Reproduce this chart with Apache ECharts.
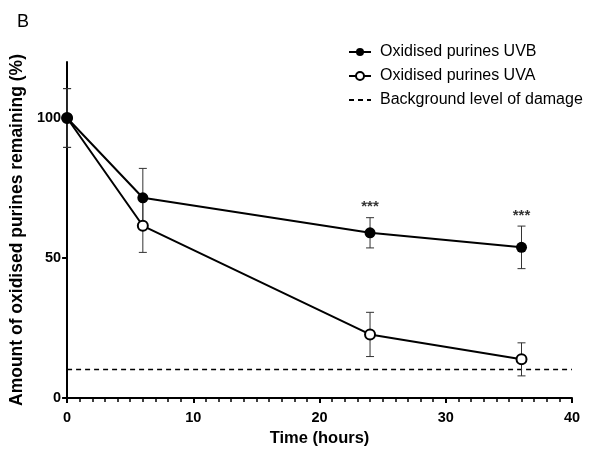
<!DOCTYPE html>
<html>
<head>
<meta charset="utf-8">
<script src="https://cdn.jsdelivr.net/npm/echarts@6/dist/echarts.min.js"></script>
<style>
  html, body { margin: 0; padding: 0; background: #fff; }
  #main { width: 592px; height: 459px; }
</style>
</head>
<body>
<div id="main"></div>
<script>
// time points (hours)
const times = [0, 6, 24, 36];
// UVB: mean and error (+/-)
const uvbMean = [100, 71.5, 59, 53.8];
const uvbErr = [10.5, 10.5, 5.4, 7.6];
// UVA
const uvaMean = [100, 61.5, 22.7, 13.8];
const uvaErr = [10.5, 9.5, 7.9, 5.9];
// background level
const bgLevel = 10.2;
// significance marks
const starTimes = [24, 36];
const starText = "***";
const yTicks = [0, 50, 100];

const font = "Liberation Sans, Arial, sans-serif";

const myChart = echarts.init(document.getElementById("main"));

function errData(mean, err) {
  return times.map((t, i) => [t, mean[i] - err[i], mean[i] + err[i]]);
}

function renderErr(params, api) {
  const x = api.value(0);
  const lo = api.coord([x, api.value(1)]);
  const hi = api.coord([x, api.value(2)]);
  const w = 4;
  const style = { stroke: "#333", lineWidth: 1 };
  return {
    type: "group",
    children: [
      { type: "line", shape: { x1: lo[0], y1: lo[1], x2: hi[0], y2: hi[1] }, style: style },
      { type: "line", shape: { x1: lo[0] - w, y1: lo[1], x2: lo[0] + w, y2: lo[1] }, style: style },
      { type: "line", shape: { x1: hi[0] - w, y1: hi[1], x2: hi[0] + w, y2: hi[1] }, style: style },
    ],
  };
}

const starData = starTimes.map((t) => {
  const i = times.indexOf(t);
  return [t, uvbMean[i] + uvbErr[i]];
});

myChart.setOption({
  animation: false,
  textStyle: { fontFamily: font },
  grid: { left: 67, right: 20, top: 62, bottom: 61 },
  title: {
    text: "B",
    left: 12,
    top: 8,
    textStyle: { fontFamily: font, fontSize: 18, fontWeight: "normal", color: "#000" },
  },
  legend: {
    orient: "vertical",
    left: 343,
    top: 39,
    itemWidth: 22,
    itemHeight: 10,
    itemGap: 8,
    textStyle: { fontFamily: font, fontSize: 16, color: "#000", padding: [0, 0, 0, 4] },
    data: [
      "Oxidised purines UVB",
      "Oxidised purines UVA",
      { name: "Background level of damage", itemStyle: { color: "rgba(0,0,0,0)", borderWidth: 0 } },
    ],
  },
  xAxis: {
    type: "value",
    min: 0,
    max: 40,
    interval: 10,
    name: "Time (hours)",
    nameLocation: "middle",
    nameGap: 32,
    nameTextStyle: { fontFamily: font, fontSize: 16.5, fontWeight: "bold", color: "#000" },
    splitLine: { show: false },
    axisLine: { lineStyle: { color: "#000", width: 2 } },
    axisTick: { show: true, length: 5, lineStyle: { color: "#000", width: 2 } },
    minorTick: { show: true, splitNumber: 10, length: 4, lineStyle: { color: "#000", width: 1.5 } },
    axisLabel: { fontFamily: font, fontSize: 14.5, fontWeight: "bold", color: "#000", margin: 12 },
  },
  yAxis: {
    type: "value",
    min: 0,
    max: 120,
    interval: 50,
    name: "Amount of oxidised purines remaining (%)",
    nameLocation: "middle",
    nameGap: 41,
    nameTextStyle: { fontFamily: font, fontSize: 17.5, fontWeight: "bold", color: "#000" },
    splitLine: { show: false },
    axisLine: { show: true, lineStyle: { color: "#000", width: 2 } },
    axisTick: { show: true, length: 5, customValues: yTicks, lineStyle: { color: "#000", width: 2 } },
    axisLabel: { fontFamily: font, fontSize: 14.5, fontWeight: "bold", color: "#000", margin: 6, customValues: yTicks },
  },
  series: [
    {
      name: "Background level of damage",
      type: "line",
      data: [[0, bgLevel], [40, bgLevel]],
      symbol: "none",
      lineStyle: { color: "#000", width: 1.5, type: [5, 4] },
      itemStyle: { color: "#000" },
      z: 1,
    },
    {
      type: "custom",
      renderItem: renderErr,
      data: errData(uvbMean, uvbErr),
      z: 2,
    },
    {
      type: "custom",
      renderItem: renderErr,
      data: errData(uvaMean, uvaErr),
      z: 2,
    },
    {
      name: "Oxidised purines UVA",
      type: "line",
      data: times.map((t, i) => [t, uvaMean[i]]),
      symbol: "emptyCircle",
      symbolSize: 10,
      showAllSymbol: true,
      lineStyle: { color: "#000", width: 2 },
      itemStyle: { color: "#000", borderColor: "#000", borderWidth: 2.5 },
      z: 3,
    },
    {
      name: "Oxidised purines UVB",
      type: "line",
      data: times.map((t, i) => [t, uvbMean[i]]),
      symbol: "circle",
      symbolSize: 11,
      lineStyle: { color: "#000", width: 2 },
      itemStyle: { color: "#000" },
      z: 4,
    },
    {
      type: "scatter",
      data: starData,
      symbolSize: 0,
      silent: true,
      label: {
        show: true,
        position: "top",
        distance: 3,
        formatter: starText,
        fontFamily: font,
        fontSize: 15,
        fontWeight: "bold",
        color: "#000",
      },
      z: 5,
    },
  ],
});
</script>
</body>
</html>
